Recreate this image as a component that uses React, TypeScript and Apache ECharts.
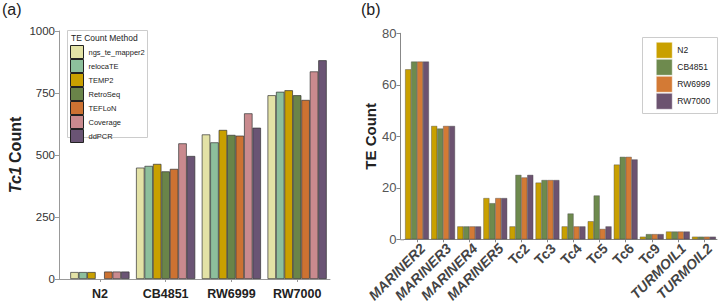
import React, { useEffect, useRef } from "react";
import * as echarts from "echarts";

const strains = ["N2", "CB4851", "RW6999", "RW7000"];
const methods = ["ngs_te_mapper2", "relocaTE", "TEMP2", "RetroSeq", "TEFLoN", "Coverage", "ddPCR"];
const methodColors = ["#E3E2A6", "#8DBF9C", "#C9A000", "#6A8449", "#CC7232", "#C98A8E", "#6A5474"];
const ngsValues = [28, 449, 583, 741];
const relocaValues = [28, 456, 551, 755];
const temp2Values = [28, 464, 601, 761];
const retroValues = [null, 434, 581, 741];
const teflonValues = [30, 444, 578, 722];
const coverageValues = [30, 547, 668, 837];
const ddpcrValues = [30, 496, 610, 882];
const methodValues = [ngsValues, relocaValues, temp2Values, retroValues, teflonValues, coverageValues, ddpcrValues];
const leftTicks = { min: 0, max: 1000, interval: 250 };

const families = ["MARINER2", "MARINER3", "MARINER4", "MARINER5", "Tc2", "Tc3", "Tc4", "Tc5", "Tc6", "Tc9", "TURMOIL1", "TURMOIL2"];
const strainColors = ["#C9A000", "#6E8A4E", "#D37A35", "#6C5370"];
const n2Counts = [66, 44, 5, 16, 5, 22, 5, 7, 29, 1, 3, 1];
const cb4851Counts = [69, 43, 5, 14, 25, 23, 10, 17, 32, 2, 3, 1];
const rw6999Counts = [69, 44, 5, 16, 24, 23, 5, 4, 32, 2, 3, 1];
const rw7000Counts = [69, 44, 5, 16, 25, 23, 5, 5, 31, 2, 3, 1];
const strainCounts = [n2Counts, cb4851Counts, rw6999Counts, rw7000Counts];
const rightTicks = { min: 0, max: 80, interval: 20 };

const FONT = "Liberation Sans, Arial, Helvetica, sans-serif";

export default function App() {
  const ref = useRef<HTMLDivElement>(null);
  useEffect(() => {
    if (!ref.current) return;
    const chart = echarts.init(ref.current, null, { renderer: "svg" });
    const leftSeries = methods.map((m, i) => ({
      name: m,
      type: "bar",
      xAxisIndex: 0,
      yAxisIndex: 0,
      data: methodValues[i],
      barGap: "0%",
      barCategoryGap: "10%",
      itemStyle: { color: methodColors[i], borderColor: "#333", borderWidth: 0.7 },
    }));
    const rightSeries = strains.map((s, i) => ({
      name: s,
      type: "bar",
      xAxisIndex: 1,
      yAxisIndex: 1,
      data: strainCounts[i],
      barGap: "0%",
      barCategoryGap: "9%",
      itemStyle: { color: strainColors[i], borderColor: "#444", borderWidth: 0.4 },
    }));
    const option: any = {
      animation: false,
      textStyle: { fontFamily: FONT },
      grid: [
        { left: 67, top: 31, width: 263, height: 248, outerBoundsMode: "none", containLabel: false },
        { left: 404, top: 33.3, width: 313, height: 206, outerBoundsMode: "none", containLabel: false },
      ],
      xAxis: [
        {
          type: "category",
          gridIndex: 0,
          data: strains,
          axisLine: { lineStyle: { color: "#999", width: 1 } },
          axisTick: { show: true, alignWithLabel: true, length: 3, lineStyle: { color: "#999" } },
          axisLabel: { color: "#222", fontSize: 12.5, fontWeight: "bold", margin: 8, fontFamily: FONT },
        },
        {
          type: "category",
          gridIndex: 1,
          data: families,
          axisLine: { lineStyle: { color: "#888", width: 1 } },
          axisTick: { show: true, alignWithLabel: true, length: 3, lineStyle: { color: "#888" } },
          axisLabel: {
            interval: 0,
            rotate: 45,
            margin: 1,
            verticalAlign: "top",
            lineHeight: 16,
            formatter: (v: string) => (v.startsWith("Tc") ? `{u|${v}}` : `{i|${v}}`),
            rich: {
              i: { fontStyle: "italic", fontWeight: "bold", fontSize: 14, lineHeight: 16, color: "#444", fontFamily: FONT },
              u: { fontWeight: "bold", fontSize: 14, lineHeight: 16, color: "#444", fontFamily: FONT },
            },
          },
        },
      ],
      yAxis: [
        {
          type: "value",
          gridIndex: 0,
          min: leftTicks.min,
          max: leftTicks.max,
          interval: leftTicks.interval,
          offset: 8,
          splitLine: { show: false },
          axisLine: { show: true, lineStyle: { color: "#999", width: 1 } },
          axisTick: { show: true, length: 4, lineStyle: { color: "#999" } },
          axisLabel: { color: "#333", fontSize: 11.5, margin: 4, fontFamily: FONT, formatter: (v: number) => String(v) },
          name: "{i|Tc1} {b|Count}",
          nameLocation: "middle",
          nameGap: 36,
          nameTextStyle: {
            rich: {
              i: { fontStyle: "italic", fontWeight: "bold", fontSize: 16, color: "#222", fontFamily: FONT },
              b: { fontWeight: "bold", fontSize: 16, color: "#222", fontFamily: FONT },
            },
          },
        },
        {
          type: "value",
          gridIndex: 1,
          min: rightTicks.min,
          max: rightTicks.max,
          interval: rightTicks.interval,
          offset: 3.5,
          splitLine: { show: false },
          axisLine: { show: true, lineStyle: { color: "#888", width: 1 } },
          axisTick: { show: true, length: 4, lineStyle: { color: "#888" } },
          axisLabel: { color: "#555", fontSize: 13, margin: 4, fontFamily: FONT },
          name: "TE Count",
          nameLocation: "middle",
          nameGap: 21,
          nameTextStyle: { fontWeight: "bold", fontSize: 15, color: "#222", fontFamily: FONT },
        },
      ],
      legend: [
        {
          data: methods,
          orient: "vertical",
          left: 70,
          top: 45,
          padding: 0,
          itemWidth: 13,
          itemHeight: 13,
          itemGap: 0,
          icon: "rect",
          itemStyle: { borderColor: "#222", borderWidth: 1 },
          textStyle: { fontSize: 7.5, color: "#222", fontFamily: FONT },
        },
        {
          data: strains,
          orient: "vertical",
          left: 656,
          top: 42,
          padding: 0,
          itemWidth: 16,
          itemHeight: 16,
          itemGap: 0.5,
          icon: "rect",
          itemStyle: { borderColor: "#fff", borderWidth: 0.5 },
          textStyle: { fontSize: 8.5, color: "#222", fontFamily: FONT },
        },
      ],
      graphic: [
        { type: "text", left: 2, top: 1, style: { text: "(a)", fontSize: 16, fill: "#222", fontFamily: FONT } },
        { type: "text", left: 361, top: 1, style: { text: "(b)", fontSize: 16, fill: "#222", fontFamily: FONT } },
        { type: "rect", shape: { x: 67.5, y: 30.5, width: 80, height: 107 }, style: { fill: "none", stroke: "#ccc", lineWidth: 1 }, z: 0 },
        { type: "text", x: 71, y: 33, style: { text: "TE Count Method", fontSize: 8.5, fill: "#222", fontFamily: FONT } },
        { type: "rect", shape: { x: 642.5, y: 37.5, width: 75, height: 76 }, style: { fill: "none", stroke: "#ccc", lineWidth: 1 }, z: 0 },
        { type: "line", shape: { x1: 59, y1: 279.5, x2: 67, y2: 279.5 }, style: { stroke: "#999", lineWidth: 1 } },
        { type: "line", shape: { x1: 400.5, y1: 239.8, x2: 404, y2: 239.8 }, style: { stroke: "#888", lineWidth: 1 } },
      ],
      series: [...leftSeries, ...rightSeries],
    };
    chart.setOption(option);
    return () => chart.dispose();
  }, []);
  return (
    <div
      ref={ref}
      style={{ position: "fixed", left: 0, top: 0, width: 720, height: 303, background: "#fff" }}
    />
  );
}
